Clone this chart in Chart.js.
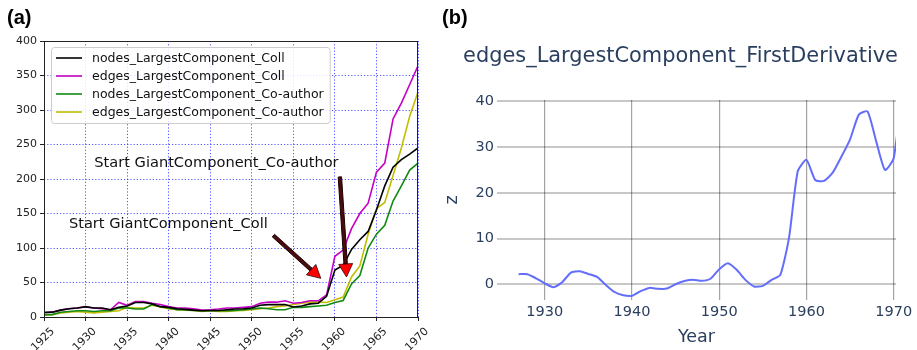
<!DOCTYPE html>
<html>
<head>
<meta charset="utf-8">
<script src="https://cdn.jsdelivr.net/npm/chart.js@4.4.0/dist/chart.umd.min.js"></script>
<style>
  html, body { margin: 0; padding: 0; background: #fff; }
  #wrap { position: relative; width: 917px; height: 350px; overflow: hidden; background: #fff; }
  canvas { position: absolute; top: 0; }
  #cA { left: 0; width: 440px; height: 350px; }
  #cB { left: 440px; width: 477px; height: 350px; }
  .panel { position: absolute; font-family: "Liberation Sans", Arial, sans-serif; font-weight: bold;
           font-size: 20px; line-height: 20px; color: #000; }
  #titleB { position: absolute; left: 440px; width: 481px; top: 45px; text-align: center;
            font-family: "DejaVu Sans", Verdana, sans-serif; font-size: 20.9px; line-height: 20px;
            color: #2a3f5f; white-space: nowrap; }
</style>
</head>
<body>
<div id="wrap">
  <canvas id="cA" width="440" height="350"></canvas>
  <canvas id="cB" width="477" height="350"></canvas>
  <div class="panel" style="left:7px; top:7px;">(a)</div>
  <div class="panel" style="left:442px; top:7px;">(b)</div>
  <div id="titleB">edges_LargestComponent_FirstDerivative</div>
</div>
<script>
// ---- panel (a): size of the largest component per year ----
const years = [1925, 1926, 1927, 1928, 1929, 1930, 1931, 1932, 1933, 1934,
               1935, 1936, 1937, 1938, 1939, 1940, 1941, 1942, 1943, 1944,
               1945, 1946, 1947, 1948, 1949, 1950, 1951, 1952, 1953, 1954,
               1955, 1956, 1957, 1958, 1959, 1960, 1961, 1962, 1963, 1964,
               1965, 1966, 1967, 1968, 1969, 1970];
const nodesColl = [6.5, 7, 10, 12, 13, 15, 13, 13, 10.5, 14,
                   16, 21, 21, 19, 15, 14, 12, 11, 10, 9,
                   9.5, 9.5, 10.5, 11.5, 12, 13, 17, 18, 18, 18,
                   14.5, 16, 19, 20, 30, 68, 75, 98, 112, 124,
                   155, 190, 217, 228, 236, 245];
const edgesColl = [6.5, 7, 10, 12, 13, 14.5, 13, 12, 10.5, 21,
                   17, 22.5, 22.5, 20, 18, 15, 13, 13, 12, 10,
                   10.5, 11.5, 13, 13, 14, 15, 20, 21.5, 21.5, 23.5,
                   20, 21, 23.5, 23.5, 32, 88, 97, 128, 150, 165,
                   210, 223, 287, 310, 337, 364];
const nodesCoauthor = [3.5, 3.5, 7, 8, 9, 9, 8, 9, 9, 13,
                       13, 11.5, 11.5, 18, 15, 13, 10.5, 10.5, 9.5, 9,
                       9.5, 9, 9, 9.5, 10.5, 11.5, 13, 12, 10.5, 10.5,
                       14, 14, 15, 16, 17, 21, 24, 48, 60, 100,
                       120, 133, 168, 190, 213, 223];
const edgesCoauthor = [2.5, 3.5, 6, 7, 8, 7, 6, 7, 8, 9,
                       14, 13, 13, 17, 14.5, 12, 10.5, 10, 9.5, 8,
                       9, 8, 8, 9, 9.5, 10.5, 12, 13, 15, 16,
                       18, 20, 21.5, 21.5, 21, 25, 29, 58, 74, 120,
                       157, 166, 205, 245, 291, 326];
const xTicksA = [1925, 1930, 1935, 1940, 1945, 1950, 1955, 1960, 1965, 1970];
const yTicksA = [0, 50, 100, 150, 200, 250, 300, 350, 400];

// ---- panel (b): first derivative of the edge count ----
const derivYears = [1927, 1928, 1929, 1930, 1931, 1932, 1933, 1934, 1935, 1936,
                    1937, 1938, 1939, 1940, 1941, 1942, 1943, 1944, 1945, 1946,
                    1947, 1948, 1949, 1950, 1951, 1952, 1953, 1954, 1955, 1956,
                    1957, 1958, 1959, 1960, 1961, 1962, 1963, 1964, 1965, 1966,
                    1967, 1968, 1969, 1970, 1971];
const edgesDerivative = [2.2, 2.2, 1.3, 0.2, -0.65, 0.45, 2.55, 2.85, 2.25, 1.6,
                         -0.15, -1.7, -2.4, -2.5, -1.5, -0.8, -1.0, -0.95, 0.0, 0.7,
                         1.0, 0.75, 1.2, 3.3, 4.6, 3.15, 0.95, -0.5, -0.35, 0.95,
                         2.05, 10.2, 24.7, 27.2, 22.8, 22.6, 24.4, 27.9, 31.7, 37.1,
                         37.8, 31.2, 25.0, 27.6, 43];
const xTicksB = [1930, 1940, 1950, 1960, 1970];
const yTicksB = [0, 10, 20, 30, 40];

const toPoints = (xs, ys) => xs.map((x, i) => ({ x: x, y: ys[i] }));
const fixTicks = list => scale => { scale.ticks = list.map(v => ({ value: v })); };

// text notes with arrows, placed in data coordinates
const notesA = [
  { text: 'Start GiantComponent_Co-author', tx: 1931.05, ty: 217.5,
    from: [1960.6, 203], to: [1961.4, 58] },
  { text: 'Start GiantComponent_Coll', tx: 1928.0, ty: 128.5,
    from: [1952.6, 118], to: [1958.3, 56] }
];

function drawArrow(ctx, x0, y0, x1, y1) {
  const dx = x1 - x0, dy = y1 - y0, len = Math.hypot(dx, dy);
  const ux = dx / len, uy = dy / len, nx = -uy, ny = ux;
  const headLen = 13, headHalf = 7, shaftHalf = 1.7;
  const bx = x1 - ux * headLen, by = y1 - uy * headLen;
  ctx.save();
  ctx.lineJoin = 'miter';
  ctx.lineWidth = 1;
  ctx.strokeStyle = '#1a0000';
  // shaft
  ctx.beginPath();
  ctx.moveTo(x0 + nx * shaftHalf, y0 + ny * shaftHalf);
  ctx.lineTo(bx + nx * shaftHalf, by + ny * shaftHalf);
  ctx.lineTo(bx - nx * shaftHalf, by - ny * shaftHalf);
  ctx.lineTo(x0 - nx * shaftHalf, y0 - ny * shaftHalf);
  ctx.closePath();
  ctx.fillStyle = '#4a0c0c';
  ctx.fill();
  ctx.stroke();
  // head
  ctx.beginPath();
  ctx.moveTo(bx + nx * headHalf, by + ny * headHalf);
  ctx.lineTo(x1, y1);
  ctx.lineTo(bx - nx * headHalf, by - ny * headHalf);
  ctx.closePath();
  ctx.fillStyle = '#ff0000';
  ctx.fill();
  ctx.strokeStyle = '#3a0000';
  ctx.lineWidth = 0.8;
  ctx.stroke();
  ctx.restore();
}

const panelAExtras = {
  id: 'panelAExtras',
  afterDatasetsDraw(chart) {
    const { ctx, chartArea: a, scales: { x, y } } = chart;
    ctx.save();
    // axes frame
    ctx.strokeStyle = '#222';
    ctx.lineWidth = 1;
    ctx.strokeRect(Math.round(a.left) + 0.5, Math.round(a.top) + 0.5,
                   Math.round(a.right - a.left) - 1, Math.round(a.bottom - a.top));
    // notes and arrows
    ctx.font = '14.6px "DejaVu Sans"';
    ctx.fillStyle = '#111';
    ctx.textBaseline = 'alphabetic';
    ctx.textAlign = 'left';
    notesA.forEach(n => {
      ctx.fillText(n.text, x.getPixelForValue(n.tx), y.getPixelForValue(n.ty));
      drawArrow(ctx, x.getPixelForValue(n.from[0]), y.getPixelForValue(n.from[1]),
                     x.getPixelForValue(n.to[0]), y.getPixelForValue(n.to[1]));
    });
    // legend
    const ds = chart.data.datasets;
    ctx.font = '12.5px "DejaVu Sans"';
    const textW = Math.max(...ds.map(d => ctx.measureText(d.label).width));
    const bx = a.left + 7, by = a.top + 6;
    const rowH = 18, pad = 5, handle = 26, gap = 10;
    const bw = pad + handle + gap + textW + 6, bh = ds.length * rowH + 4;
    ctx.beginPath();
    ctx.roundRect(bx + 0.5, by + 0.5, bw, bh, 3);
    ctx.fillStyle = 'rgba(255,255,255,0.85)';
    ctx.fill();
    ctx.strokeStyle = '#cccccc';
    ctx.lineWidth = 1;
    ctx.stroke();
    ctx.textBaseline = 'middle';
    ds.forEach((d, i) => {
      const cy = by + 11 + i * rowH;
      ctx.beginPath();
      ctx.moveTo(bx + pad, cy);
      ctx.lineTo(bx + pad + handle, cy);
      ctx.strokeStyle = d.borderColor;
      ctx.lineWidth = 1.6;
      ctx.stroke();
      ctx.fillStyle = '#111';
      ctx.fillText(d.label, bx + pad + handle + gap, cy + 0.5);
    });
    ctx.restore();
  }
};

const lineDs = (label, values, color) => ({
  label: label, data: toPoints(years, values), borderColor: color,
  borderWidth: 1.6, pointRadius: 0, tension: 0, fill: false
});

new Chart(document.getElementById('cA'), {
  type: 'line',
  data: {
    datasets: [
      lineDs('nodes_LargestComponent_Coll', nodesColl, '#000000'),
      lineDs('edges_LargestComponent_Coll', edgesColl, '#c400c4'),
      lineDs('nodes_LargestComponent_Co-author', nodesCoauthor, '#138a13'),
      lineDs('edges_LargestComponent_Co-author', edgesCoauthor, '#bfbf00')
    ]
  },
  options: {
    responsive: false, animation: false, devicePixelRatio: 1,
    layout: { padding: { top: 41, right: 22, left: 0, bottom: 0 } },
    plugins: { legend: { display: false }, tooltip: { enabled: false } },
    scales: {
      x: {
        type: 'linear', min: 1925, max: 1970,
        afterBuildTicks: fixTicks(xTicksA),
        afterFit: s => { s.height = 33; },
        ticks: { font: { family: 'DejaVu Sans', size: 11 }, color: '#222',
                 minRotation: 45, maxRotation: 45, autoSkip: false, labelOffset: 9, padding: 4,
                 callback: v => String(v) },
        grid: { color: 'rgba(40,40,255,0.8)', lineWidth: 1, tickLength: 4,
                tickColor: '#222', tickWidth: 1, tickBorderDash: [] },
        border: { display: false, dash: [1.2, 2] }
      },
      y: {
        type: 'linear', min: 0, max: 400,
        afterBuildTicks: fixTicks(yTicksA),
        afterFit: s => { s.width = 44; },
        ticks: { font: { family: 'DejaVu Sans', size: 11 }, color: '#222', padding: 3,
                 callback: v => String(v) },
        grid: { color: 'rgba(40,40,255,0.8)', lineWidth: 1, tickLength: 4,
                tickColor: '#222', tickWidth: 1, tickBorderDash: [] },
        border: { display: false, dash: [1.2, 2] }
      }
    }
  },
  plugins: [panelAExtras]
});

new Chart(document.getElementById('cB'), {
  type: 'line',
  data: {
    datasets: [{
      label: 'z', data: toPoints(derivYears, edgesDerivative),
      borderColor: '#636efa', borderWidth: 2, pointRadius: 0, tension: 0.2, fill: false
    }]
  },
  options: {
    responsive: false, animation: false, devicePixelRatio: 1,
    layout: { padding: { top: 100, right: 21, left: 0, bottom: 0 } },
    plugins: { legend: { display: false }, tooltip: { enabled: false } },
    scales: {
      x: {
        type: 'linear', min: 1924.53, max: 1970.26,
        afterBuildTicks: fixTicks(xTicksB),
        afterFit: s => { s.height = 50; },
        ticks: { font: { family: 'DejaVu Sans', size: 14.5 }, color: '#2a3f5f', padding: 4,
                 maxRotation: 0, autoSkip: false, callback: v => String(v) },
        grid: { color: 'rgba(0,0,0,0.36)', lineWidth: 1.2, drawTicks: false },
        border: { display: false },
        title: { display: true, text: 'Year', color: '#2a3f5f',
                 font: { family: 'DejaVu Sans', size: 17.5 }, padding: { top: 0, bottom: 2 } }
      },
      y: {
        type: 'linear', min: -3.45, max: 40.3,
        afterBuildTicks: fixTicks(yTicksB),
        afterFit: s => { s.width = 57; },
        ticks: { font: { family: 'DejaVu Sans', size: 14.5 }, color: '#2a3f5f', padding: 3,
                 callback: v => String(v) },
        grid: { color: 'rgba(0,0,0,0.22)', lineWidth: 2, drawTicks: false },
        border: { display: false },
        title: { display: true, text: 'z', color: '#2a3f5f',
                 font: { family: 'DejaVu Sans', size: 17.5 }, padding: { top: 2, bottom: 0 } }
      }
    }
  }
});
</script>
</body>
</html>
